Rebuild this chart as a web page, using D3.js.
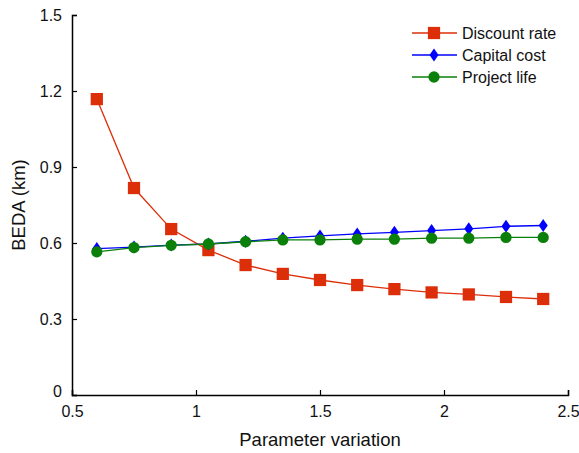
<!DOCTYPE html>
<html>
<head>
<meta charset="utf-8">
<style>
  body { margin: 0; background: #fff; }
  text { font-family: "Liberation Sans", Arial, sans-serif; fill: #111; }
</style>
</head>
<body>
<svg id="chart"></svg>
<script src="https://cdnjs.cloudflare.com/ajax/libs/d3/7.8.5/d3.min.js"></script>
<script>
  // data
  var xValues      = [0.6, 0.75, 0.9, 1.05, 1.2, 1.35, 1.5, 1.65, 1.8, 1.95, 2.1, 2.25, 2.4];
  var discountRate = [1.168, 0.817, 0.655, 0.572, 0.513, 0.478, 0.454, 0.434, 0.418, 0.405, 0.397, 0.387, 0.379];
  var capitalCost  = [0.578, 0.584, 0.592, 0.596, 0.607, 0.619, 0.628, 0.636, 0.642, 0.649, 0.656, 0.666, 0.669];
  var projectLife  = [0.565, 0.582, 0.591, 0.596, 0.605, 0.612, 0.612, 0.615, 0.615, 0.619, 0.619, 0.622, 0.622];
  var xTicks       = [0.5, 1, 1.5, 2, 2.5];
  var yTicks       = [0, 0.3, 0.6, 0.9, 1.2, 1.5];
  var seriesNames  = ["Discount rate", "Capital cost", "Project life"];

  var width  = 579,
      height = 453,
      margin = {left: 72, right: 11, top: 15, bottom: 58};

  var series = [
    {name: seriesNames[0], values: discountRate, color: "#dd2e0a", shape: d3.symbolSquare,  size: 150},
    {name: seriesNames[1], values: capitalCost,  color: "#0000ff", shape: "diamond",        size: 0},
    {name: seriesNames[2], values: projectLife,  color: "#0a800a", shape: d3.symbolCircle,  size: 100}
  ];

  var svg = d3.select("#chart")
              .attr("width", width)
              .attr("height", height);

  var x = d3.scaleLinear().domain([0.5, 2.5]).range([margin.left, width - margin.right]);
  var y = d3.scaleLinear().domain([0, 1.5]).range([height - margin.bottom, margin.top]);

  // axes, ticks pointing inward
  var xAxis = svg.append("g")
      .attr("transform", "translate(0," + y(0) + ")")
      .call(d3.axisBottom(x).tickValues(xTicks).tickSize(-5).tickPadding(9).tickFormat(d3.format("")));
  var yAxis = svg.append("g")
      .attr("transform", "translate(" + x(0.5) + ",0)")
      .call(d3.axisLeft(y).tickValues(yTicks).tickSize(-5).tickPadding(10).tickFormat(d3.format("")));

  [xAxis, yAxis].forEach(function(a) {
    a.select(".domain").attr("stroke", "#000").attr("stroke-width", 1.5);
    a.selectAll(".tick line").attr("stroke", "#000").attr("stroke-width", 1.2);
    a.selectAll(".tick text").style("font-size", "16px").style("font-family", "Liberation Sans, Arial, sans-serif").attr("fill", "#111");
  });
  xAxis.selectAll(".tick text").attr("dy", "0.8em");
  // the "0" on the y axis sits a bit lower like the original
  yAxis.selectAll(".tick text").filter(function(d) { return d === 0; }).attr("dy", "0.1em");

  // axis titles
  svg.append("text")
     .attr("x", (x(0.5) + x(2.5)) / 2)
     .attr("y", 446)
     .attr("text-anchor", "middle")
     .style("font-size", "18.5px")
     .text("Parameter variation");

  svg.append("text")
     .attr("transform", "translate(25," + y(0.75) + ") rotate(-90)")
     .attr("text-anchor", "middle")
     .style("font-size", "18.5px")
     .text("BEDA (km)");

  var line = d3.line()
               .x(function(d, i) { return x(xValues[i]); })
               .y(function(d) { return y(d); });

  function marker(sel, s) {
    if (s.shape === "diamond") {
      sel.append("path").attr("d", "M0,-6.5L4.5,0L0,6.5L-4.5,0Z").attr("fill", s.color);
    } else {
      sel.append("path").attr("d", d3.symbol().type(s.shape).size(s.size)()).attr("fill", s.color);
    }
  }

  // draw in order so green ends on top like the original
  series.forEach(function(s) {
    var g = svg.append("g");
    g.append("path")
     .datum(s.values)
     .attr("fill", "none")
     .attr("stroke", s.color)
     .attr("stroke-width", 1.3)
     .attr("d", line);
    g.selectAll("g.pt")
     .data(s.values)
     .enter().append("g")
     .attr("class", "pt")
     .attr("transform", function(d, i) { return "translate(" + x(xValues[i]) + "," + y(d) + ")"; })
     .each(function() { marker(d3.select(this), s); });
  });

  // legend
  var legend = svg.append("g").attr("transform", "translate(412,33)");
  series.forEach(function(s, i) {
    var row = legend.append("g").attr("transform", "translate(0," + (i * 22) + ")");
    row.append("line").attr("x1", 0).attr("x2", 45).attr("y1", 0).attr("y2", 0)
       .attr("stroke", s.color).attr("stroke-width", 1.3);
    var m = row.append("g").attr("transform", "translate(22,0)");
    marker(m, s);
    row.append("text").attr("x", 50).attr("y", 0).attr("dy", "0.35em")
       .style("font-size", "16px").text(s.name);
  });
</script>
</body>
</html>
